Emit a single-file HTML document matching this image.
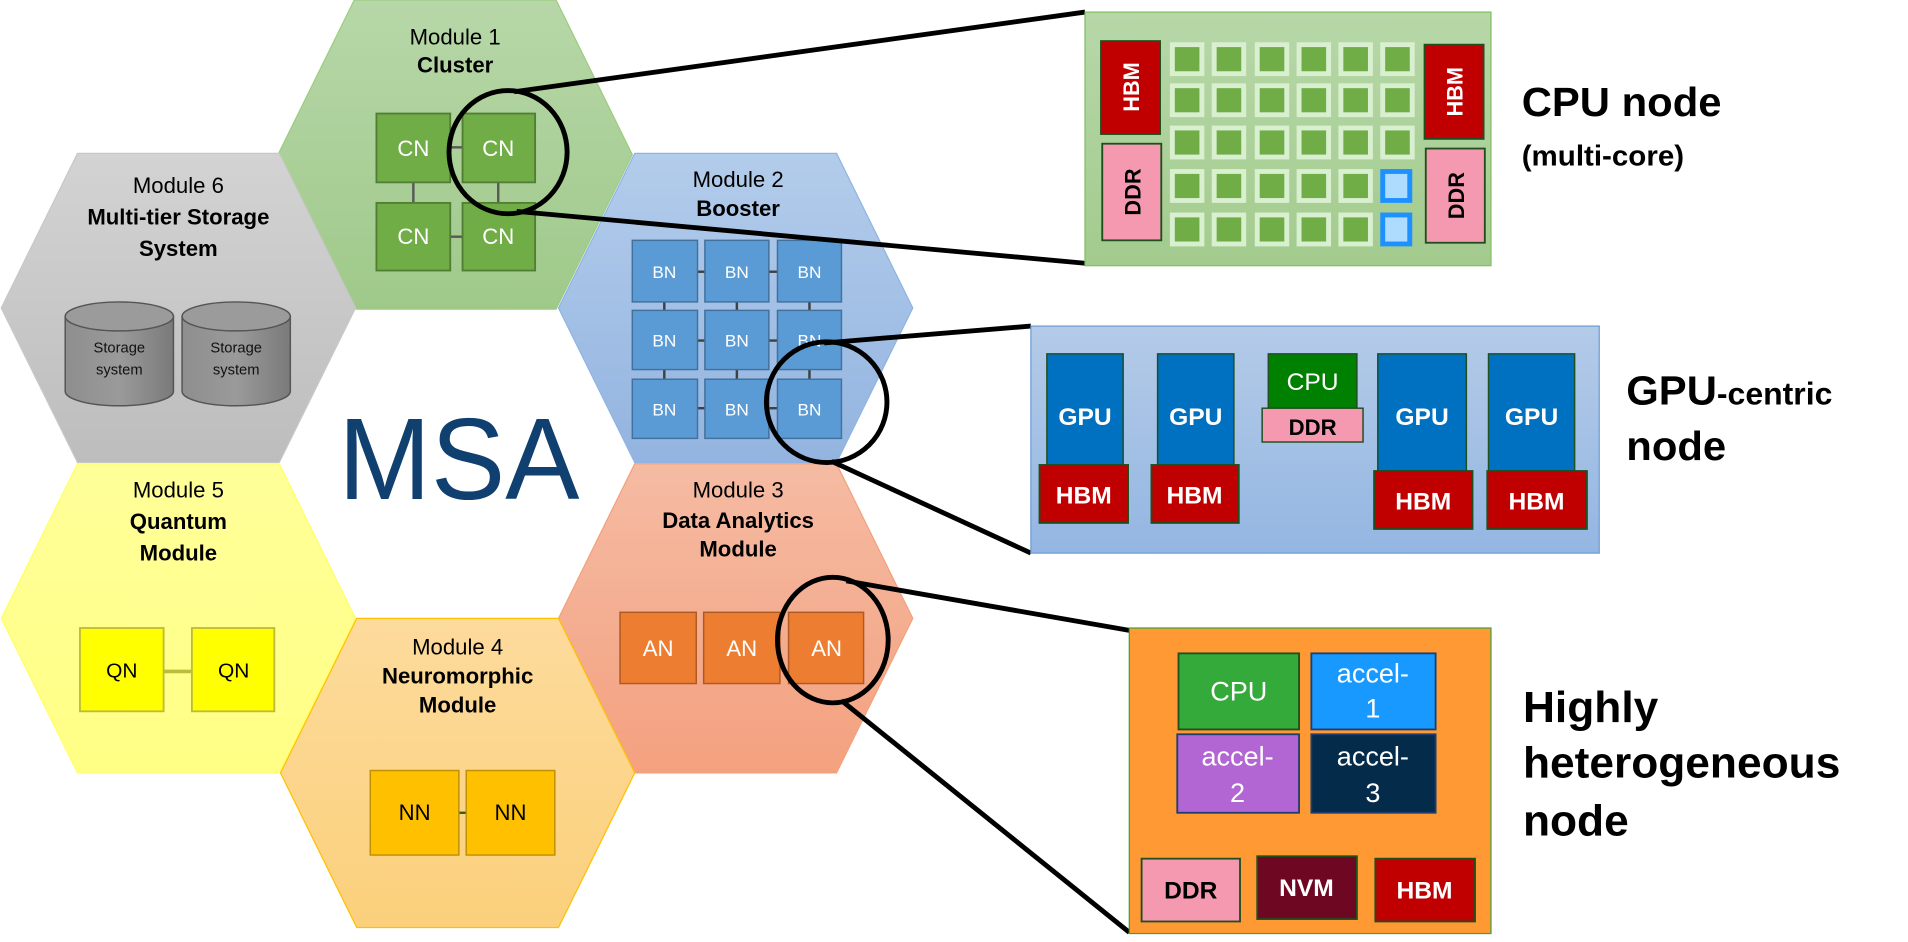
<!DOCTYPE html>
<html><head><meta charset="utf-8"><style>
html,body{margin:0;padding:0;background:#fff;}
svg{display:block;}
text{font-family:"Liberation Sans",Arial,sans-serif;}
</style></head><body>
<svg width="1908" height="942" viewBox="0 0 1551 780" preserveAspectRatio="none" xmlns="http://www.w3.org/2000/svg">
<defs>
<linearGradient id="gG" x1="0" y1="0" x2="0" y2="1"><stop offset="0" stop-color="#b7d7a8"/><stop offset="1" stop-color="#9fc98a"/></linearGradient>
<linearGradient id="gY" x1="0" y1="0" x2="0" y2="1"><stop offset="0" stop-color="#d3d3d3"/><stop offset="1" stop-color="#bdbdbd"/></linearGradient>
<linearGradient id="gB" x1="0" y1="0" x2="0" y2="1"><stop offset="0" stop-color="#b3cceb"/><stop offset="1" stop-color="#93b4e0"/></linearGradient>
<linearGradient id="gL" x1="0" y1="0" x2="0" y2="1"><stop offset="0" stop-color="#ffff99"/><stop offset="1" stop-color="#ffff85"/></linearGradient>
<linearGradient id="gS" x1="0" y1="0" x2="0" y2="1"><stop offset="0" stop-color="#f5bba3"/><stop offset="1" stop-color="#f4a17f"/></linearGradient>
<linearGradient id="gO" x1="0" y1="0" x2="0" y2="1"><stop offset="0" stop-color="#fddb9c"/><stop offset="1" stop-color="#fbd07c"/></linearGradient>
<linearGradient id="gC" x1="0" y1="0" x2="1" y2="0"><stop offset="0" stop-color="#8e8e8e"/><stop offset="0.5" stop-color="#9a9a9a"/><stop offset="1" stop-color="#7a7a7a"/></linearGradient>
<linearGradient id="gGB" x1="0" y1="0" x2="0" y2="1"><stop offset="0" stop-color="#b4cbe8"/><stop offset="1" stop-color="#94b6e2"/></linearGradient>
<linearGradient id="gCB" x1="0" y1="0" x2="0" y2="1"><stop offset="0" stop-color="#b7d7a8"/><stop offset="1" stop-color="#a3cb8e"/></linearGradient>
</defs>

<!-- hexagons -->
<polygon points="288,0 452,0 514,128 452,256 288,256 226,128" fill="url(#gG)" stroke="#9ccc80" stroke-width="1"/>
<polygon points="63,127 227,127 289,255 227,383 63,383 1,255" fill="url(#gY)" stroke="#c8c8c8" stroke-width="1"/>
<polygon points="516,127 680,127 742,255 680,383 516,383 454,255" fill="url(#gB)" stroke="#8fb4e3" stroke-width="1"/>
<polygon points="63,384 227,384 289,512 227,640 63,640 1,512" fill="url(#gL)" stroke="#ffff66" stroke-width="1"/>
<polygon points="516,384 680,384 742,512 680,640 516,640 454,512" fill="url(#gS)" stroke="#f4a07c" stroke-width="1"/>
<polygon points="290,512 454,512 516,640 454,768 290,768 228,640" fill="url(#gO)" stroke="#ffc000" stroke-width="1"/>

<!-- Module 1 -->
<text x="370" y="37" font-size="18" text-anchor="middle">Module 1</text>
<text x="370" y="60" font-size="18" font-weight="bold" text-anchor="middle">Cluster</text>
<g stroke="#595959" stroke-width="2"><line x1="366" y1="122" x2="376" y2="122"/><line x1="366" y1="196" x2="376" y2="196"/><line x1="336" y1="151" x2="336" y2="168"/><line x1="405" y1="151" x2="405" y2="168"/></g>
<g fill="#70ad47" stroke="#507e32" stroke-width="1.5">
<rect x="306" y="94" width="60" height="57"/><rect x="376" y="94" width="59" height="57"/>
<rect x="306" y="168" width="60" height="56"/><rect x="376" y="168" width="59" height="56"/></g>
<g fill="#fff" font-size="18" text-anchor="middle"><text x="336" y="129">CN</text><text x="405" y="129">CN</text><text x="336" y="202">CN</text><text x="405" y="202">CN</text></g>

<!-- Module 6 -->
<text x="145" y="160" font-size="18" text-anchor="middle">Module 6</text>
<text x="145" y="186" font-size="18" font-weight="bold" text-anchor="middle">Multi-tier Storage</text>
<text x="145" y="212" font-size="18" font-weight="bold" text-anchor="middle">System</text>
<g stroke="#555" stroke-width="1.2">
<path d="M53,262 L53,324 A44,12 0 0 0 141,324 L141,262 Z" fill="url(#gC)"/>
<ellipse cx="97" cy="262" rx="44" ry="12" fill="#9b9b9b"/>
<path d="M148,262 L148,324 A44,12 0 0 0 236,324 L236,262 Z" fill="url(#gC)"/>
<ellipse cx="192" cy="262" rx="44" ry="12" fill="#9b9b9b"/>
</g>
<g font-size="12" text-anchor="middle" fill="#111"><text x="97" y="292">Storage</text><text x="97" y="310">system</text><text x="192" y="292">Storage</text><text x="192" y="310">system</text></g>

<!-- Module 2 -->
<text x="600" y="155" font-size="18" text-anchor="middle">Module 2</text>
<text x="600" y="179" font-size="18" font-weight="bold" text-anchor="middle">Booster</text>
<g stroke="#404040" stroke-width="2">
<line x1="567" y1="225" x2="573" y2="225"/><line x1="625" y1="225" x2="632" y2="225"/>
<line x1="567" y1="282" x2="573" y2="282"/><line x1="625" y1="282" x2="632" y2="282"/>
<line x1="567" y1="338" x2="573" y2="338"/><line x1="625" y1="338" x2="632" y2="338"/>
<line x1="540" y1="250" x2="540" y2="257"/><line x1="599" y1="250" x2="599" y2="257"/><line x1="658" y1="250" x2="658" y2="257"/>
<line x1="540" y1="306" x2="540" y2="314"/><line x1="599" y1="306" x2="599" y2="314"/><line x1="658" y1="306" x2="658" y2="314"/>
</g>
<g fill="#5b9bd5" stroke="#41719c" stroke-width="1.2">
<rect x="514" y="199" width="53" height="51"/><rect x="573" y="199" width="52" height="51"/><rect x="632" y="199" width="52" height="51"/>
<rect x="514" y="257" width="53" height="49"/><rect x="573" y="257" width="52" height="49"/><rect x="632" y="257" width="52" height="49"/>
<rect x="514" y="314" width="53" height="49"/><rect x="573" y="314" width="52" height="49"/><rect x="632" y="314" width="52" height="49"/>
</g>
<g fill="#fff" font-size="14" text-anchor="middle">
<text x="540" y="230">BN</text><text x="599" y="230">BN</text><text x="658" y="230">BN</text>
<text x="540" y="287">BN</text><text x="599" y="287">BN</text><text x="658" y="287">BN</text>
<text x="540" y="344">BN</text><text x="599" y="344">BN</text><text x="658" y="344">BN</text></g>

<!-- MSA -->
<text x="373" y="413" font-size="96" text-anchor="middle" fill="#10406f" textLength="196" lengthAdjust="spacingAndGlyphs">MSA</text>

<!-- Module 5 -->
<text x="145" y="412" font-size="18" text-anchor="middle">Module 5</text>
<text x="145" y="438" font-size="18" font-weight="bold" text-anchor="middle">Quantum</text>
<text x="145" y="464" font-size="18" font-weight="bold" text-anchor="middle">Module</text>
<line x1="133" y1="556" x2="156" y2="556" stroke="#bcbc3a" stroke-width="3"/>
<rect x="65" y="520" width="68" height="69" fill="#ffff00" stroke="#bcbc3a" stroke-width="1.5"/>
<rect x="156" y="520" width="67" height="69" fill="#ffff00" stroke="#bcbc3a" stroke-width="1.5"/>
<text x="99" y="561" font-size="17" text-anchor="middle">QN</text><text x="190" y="561" font-size="17" text-anchor="middle">QN</text>

<!-- Module 3 -->
<text x="600" y="412" font-size="18" text-anchor="middle">Module 3</text>
<text x="600" y="437" font-size="18" font-weight="bold" text-anchor="middle">Data Analytics</text>
<text x="600" y="461" font-size="18" font-weight="bold" text-anchor="middle">Module</text>
<g fill="#ed7d31" stroke="#ae5a21" stroke-width="1.2">
<rect x="504" y="507" width="62" height="59"/><rect x="572" y="507" width="62" height="59"/><rect x="641" y="507" width="61" height="59"/></g>
<g fill="#fff" font-size="18" text-anchor="middle"><text x="535" y="543">AN</text><text x="603" y="543">AN</text><text x="672" y="543">AN</text></g>

<!-- Module 4 -->
<text x="372" y="542" font-size="18" text-anchor="middle">Module 4</text>
<text x="372" y="566" font-size="18" font-weight="bold" text-anchor="middle">Neuromorphic</text>
<text x="372" y="590" font-size="18" font-weight="bold" text-anchor="middle">Module</text>
<line x1="373" y1="673" x2="379" y2="673" stroke="#3a5a20" stroke-width="2"/>
<rect x="301" y="638" width="72" height="70" fill="#ffc000" stroke="#bf9000" stroke-width="1.2"/>
<rect x="379" y="638" width="72" height="70" fill="#ffc000" stroke="#bf9000" stroke-width="1.2"/>
<text x="337" y="679" font-size="18" text-anchor="middle">NN</text><text x="415" y="679" font-size="18" text-anchor="middle">NN</text>

<!-- zoom circles & lines -->
<g fill="none" stroke="#000" stroke-width="4">
<ellipse cx="413" cy="126" rx="48" ry="51"/>
<line x1="418" y1="76" x2="882" y2="10"/>
<line x1="420" y1="175" x2="882" y2="218"/>
<ellipse cx="672" cy="333" rx="49" ry="50"/>
<line x1="670" y1="284" x2="838" y2="270"/>
<line x1="676" y1="382" x2="838" y2="458"/>
<ellipse cx="677" cy="530" rx="45" ry="52"/>
<line x1="688" y1="481" x2="918" y2="522"/>
<line x1="684" y1="580" x2="918" y2="772"/>
</g>

<!-- CPU node box -->
<rect x="882" y="10" width="330" height="210" fill="url(#gCB)" stroke="#7fbf60" stroke-width="1"/>
<rect x="895" y="34" width="48" height="77" fill="#c00000" stroke="#1f4e1f" stroke-width="1.5"/>
<rect x="896" y="119" width="48" height="80" fill="#f599b0" stroke="#1f4e1f" stroke-width="1.5"/>
<rect x="1158" y="37" width="48" height="78" fill="#c00000" stroke="#1f4e1f" stroke-width="1.5"/>
<rect x="1159" y="123" width="48" height="78" fill="#f599b0" stroke="#1f4e1f" stroke-width="1.5"/>
<g font-size="18" font-weight="bold" text-anchor="middle">
<text transform="translate(926,72) rotate(-90)" fill="#fff">HBM</text>
<text transform="translate(927,159) rotate(-90)" fill="#000">DDR</text>
<text transform="translate(1189,76) rotate(-90)" fill="#fff">HBM</text>
<text transform="translate(1190,162) rotate(-90)" fill="#000">DDR</text></g>
<g fill="#70ad47" stroke="#d8f0cf" stroke-width="4">
<rect x="953" y="37" width="24" height="24"/><rect x="987" y="37" width="24" height="24"/><rect x="1022" y="37" width="24" height="24"/><rect x="1056" y="37" width="24" height="24"/><rect x="1090" y="37" width="24" height="24"/><rect x="1124" y="37" width="24" height="24"/>
<rect x="953" y="71" width="24" height="24"/><rect x="987" y="71" width="24" height="24"/><rect x="1022" y="71" width="24" height="24"/><rect x="1056" y="71" width="24" height="24"/><rect x="1090" y="71" width="24" height="24"/><rect x="1124" y="71" width="24" height="24"/>
<rect x="953" y="106" width="24" height="24"/><rect x="987" y="106" width="24" height="24"/><rect x="1022" y="106" width="24" height="24"/><rect x="1056" y="106" width="24" height="24"/><rect x="1090" y="106" width="24" height="24"/><rect x="1124" y="106" width="24" height="24"/>
<rect x="953" y="142" width="24" height="24"/><rect x="987" y="142" width="24" height="24"/><rect x="1022" y="142" width="24" height="24"/><rect x="1056" y="142" width="24" height="24"/><rect x="1090" y="142" width="24" height="24"/>
<rect x="953" y="178" width="24" height="24"/><rect x="987" y="178" width="24" height="24"/><rect x="1022" y="178" width="24" height="24"/><rect x="1056" y="178" width="24" height="24"/><rect x="1090" y="178" width="24" height="24"/>
</g>
<g fill="#addcff" stroke="#1e90ff" stroke-width="4">
<rect x="1124" y="142" width="22" height="24"/><rect x="1124" y="178" width="22" height="24"/></g>
<text x="1237" y="96" font-size="34" font-weight="bold">CPU node</text>
<text x="1237" y="137" font-size="24" font-weight="bold">(multi-core)</text>

<!-- GPU node box -->
<rect x="838" y="270" width="462" height="188" fill="url(#gGB)" stroke="#6a9bd5" stroke-width="1"/>
<g fill="#0070c0" stroke="#1f4e1f" stroke-width="1.2">
<rect x="851" y="293" width="62" height="93"/><rect x="941" y="293" width="62" height="93"/>
<rect x="1120" y="293" width="72" height="99"/><rect x="1210" y="293" width="70" height="99"/></g>
<g fill="#c00000" stroke="#1f4e1f" stroke-width="1.5">
<rect x="845" y="385" width="72" height="48"/><rect x="936" y="385" width="71" height="48"/>
<rect x="1117" y="390" width="80" height="48"/><rect x="1209" y="390" width="81" height="48"/></g>
<rect x="1031" y="293" width="72" height="45" fill="#008000" stroke="#1f4e1f" stroke-width="1.2"/>
<rect x="1026" y="338" width="82" height="28" fill="#f599b0" stroke="#1f4e1f" stroke-width="1.2"/>
<g font-size="20" font-weight="bold" text-anchor="middle" fill="#fff">
<text x="882" y="352">GPU</text><text x="972" y="352">GPU</text><text x="1156" y="352">GPU</text><text x="1245" y="352">GPU</text>
<text x="881" y="417">HBM</text><text x="971" y="417">HBM</text><text x="1157" y="422">HBM</text><text x="1249" y="422">HBM</text></g>
<text x="1067" y="323" font-size="20" text-anchor="middle" fill="#fff">CPU</text>
<text x="1067" y="360" font-size="18" font-weight="bold" text-anchor="middle">DDR</text>
<text x="1322" y="335" font-weight="bold"><tspan font-size="34">GPU</tspan><tspan font-size="26">-centric</tspan></text>
<text x="1322" y="381" font-size="34" font-weight="bold">node</text>

<!-- Hetero node box -->
<rect x="918" y="520" width="294" height="253" fill="#ff9933" stroke="#3aa33a" stroke-width="1"/>
<rect x="958" y="541" width="98" height="63" fill="#33aa3a" stroke="#1f4e1f" stroke-width="1.5"/>
<rect x="1066" y="541" width="101" height="63" fill="#1799ff" stroke="#1f3e6f" stroke-width="1.5"/>
<rect x="957" y="608" width="99" height="65" fill="#b266d4" stroke="#1f3e6f" stroke-width="1.5"/>
<rect x="1066" y="608" width="101" height="65" fill="#052b4a" stroke="#1f3e6f" stroke-width="1.5"/>
<g font-size="22" text-anchor="middle" fill="#fff">
<text x="1007" y="580">CPU</text>
<text x="1116" y="565">accel-</text><text x="1116" y="594">1</text>
<text x="1006" y="634">accel-</text><text x="1006" y="664">2</text>
<text x="1116" y="634">accel-</text><text x="1116" y="664">3</text></g>
<rect x="928" y="711" width="80" height="52" fill="#f599b0" stroke="#1f4e1f" stroke-width="1.5"/>
<rect x="1022" y="709" width="81" height="52" fill="#6d0722" stroke="#1f4e1f" stroke-width="1.5"/>
<rect x="1118" y="711" width="81" height="52" fill="#c00000" stroke="#1f4e1f" stroke-width="1.5"/>
<g font-size="20" font-weight="bold" text-anchor="middle">
<text x="968" y="744">DDR</text><text x="1062" y="742" fill="#fff">NVM</text><text x="1158" y="744" fill="#fff">HBM</text></g>
<text x="1238" y="598" font-size="36" font-weight="bold">Highly</text>
<text x="1238" y="644" font-size="36" font-weight="bold">heterogeneous</text>
<text x="1238" y="692" font-size="36" font-weight="bold">node</text>
</svg>
</body></html>
